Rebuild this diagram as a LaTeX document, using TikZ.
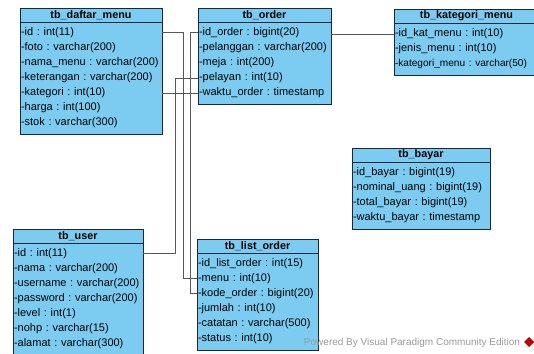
\documentclass[tikz,border=0pt]{standalone}
\usepackage{fontspec}
\setmainfont{Liberation Sans}
\usetikzlibrary{positioning}
\frenchspacing
\definecolor{isi}{RGB}{124,204,242}
\definecolor{tepi}{RGB}{28,38,58}
\definecolor{garis}{RGB}{88,88,88}
\tikzset{
  every picture/.style={line width=0.8pt},
  every node/.style={font=\fontsize{11}{15}\selectfont},
  judul/.style={draw=tepi, fill=isi, minimum width=#1+2pt, minimum height=14pt, inner sep=0pt, outer sep=0pt, font=\fontsize{10.8}{15}\selectfont\bfseries},
  kolom/.style={draw=tepi, fill=isi, text width=#1, inner xsep=1pt, inner ysep=6pt, outer sep=0pt, align=left},
  relasi/.style={draw=garis, line width=1pt},
  %watermark/.style={text=gray!60},
  tanda/.style={text=black!40, font=\fontsize{10}{12}\selectfont}
}

\begin{document}
\begin{tikzpicture}[x=1pt, y=-1pt]
    \useasboundingbox (0,0) rectangle (534,353);

    \node [judul=140pt, anchor=north west] (menuT) at (20,8) {tb\_daftar\_menu};
    \node [kolom=140pt, below=0pt of menuT] (menu) {-id : int(11)\\-foto : varchar(200)\\-nama\_menu : varchar(200)\\-keterangan : varchar(200)\\-kategori : int(10)\\-harga : int(100)\\-stok : varchar(300)};

    \node [judul=143pt, anchor=north west] (katT) at (394,9) {tb\_kategori\_menu};
    \node [kolom=143pt, below=0pt of katT] (kat) {-id\_kat\_menu : int(10)\\-jenis\_menu : int(10)\\\mbox{\fontsize{10.1}{15}\selectfont -kategori\_menu : varchar(50)}};

    \node [judul=131pt, anchor=north west] (orderT) at (198,8) {tb\_order};
    \node [kolom=131pt, below=0pt of orderT] (order) {-id\_order : bigint(20)\\-pelanggan : varchar(200)\\-meja : int(200)\\-pelayan : int(10)\\-waktu\_order : timestamp};

    \node [judul=136pt, anchor=north west] (bayarT) at (352,148) {tb\_bayar};
    \node [kolom=136pt, below=0pt of bayarT] (bayar) {-id\_bayar : bigint(19)\\-nominal\_uang : bigint(19)\\-total\_bayar : bigint(19)\\-waktu\_bayar : timestamp};

    \node [judul=128pt, anchor=north west] (userT) at (13,229) {tb\_user};
    \node [kolom=128pt, below=0pt of userT] (user) {-id : int(11)\\-nama : varchar(200)\\-username : varchar(200)\\-password : varchar(200)\\-level : int(1)\\-nohp : varchar(15)\\-alamat : varchar(300)};

    \node [judul=119pt, anchor=north west] (listT) at (197,239) {tb\_list\_order};
    \node [kolom=119pt, below=0pt of listT] (list) {-id\_list\_order : int(15)\\-menu : int(10)\\-kode\_order : bigint(20)\\-jumlah : int(10)\\-catatan : varchar(500)\\-status : int(10)};

    \draw [relasi] ([yshift=-11pt]menu.north east) -- ++(21,0) |- ([yshift=-25pt]list.north west);
    \draw [relasi] ([yshift=-11pt]order.north west) -- ++(-8,0) |- ([yshift=-40pt]list.north west);
    \draw [relasi] ([yshift=-56pt]order.north west) -- ++(-23,0) |- ([yshift=-10pt]user.north east);
    \draw [relasi] ([yshift=-71pt]menu.north east) -- ([yshift=-71pt]order.north west);
    \draw [relasi] ([yshift=-13pt]order.north east) -- ([yshift=-13pt]order.north east -| kat.west);

    \node [tanda] (vp) at (412,343) {Powered By Visual Paradigm Community Edition};
    \fill [red!75!black] (524,342) -- (529,337) -- (534,342) -- (529,347) -- cycle;
  \end{tikzpicture}
\end{document}
